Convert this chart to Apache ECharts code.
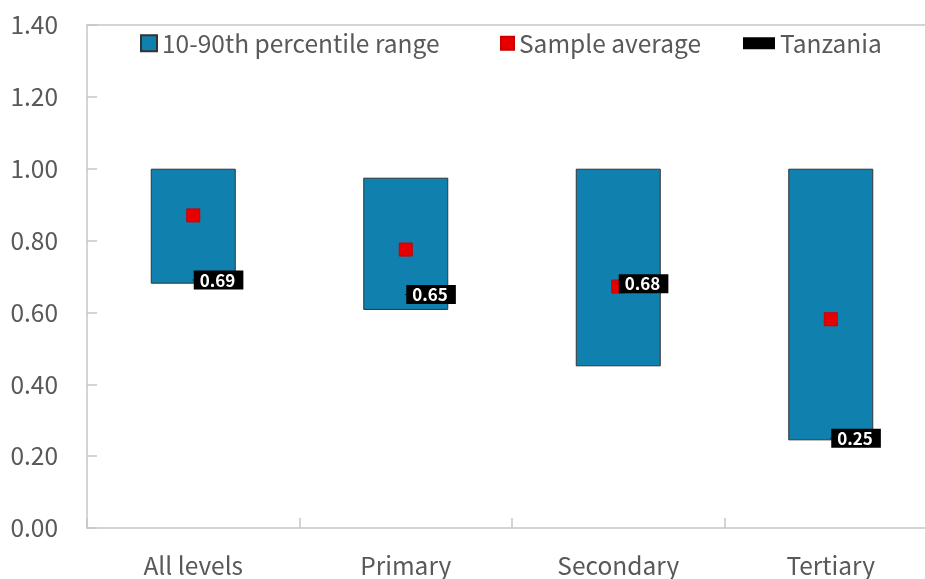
<!DOCTYPE html>
<html>
<head>
<meta charset="utf-8">
<script src="https://cdn.jsdelivr.net/npm/echarts@6/dist/echarts.min.js"></script>
<style>
  html, body { margin: 0; padding: 0; background: #fff; overflow: hidden; }
  /* the plot runs slightly past the right edge of the window */
  #chart { width: 937px; height: 579px; }
</style>
</head>
<body>
<div id="chart"></div>
<script>
// Education levels on the category axis
const categories = ['All levels', 'Primary', 'Secondary', 'Tertiary'];
// 10th and 90th percentile of the sample for each level
const p10 = [0.68, 0.607, 0.45, 0.244];
const p90 = [1.00, 0.975, 1.00, 1.00];
// Sample average
const average = [0.87, 0.775, 0.672, 0.581];
// Tanzania values (shown as labels)
const tanzania = [0.69, 0.65, 0.68, 0.25];
// Value axis ticks
const yTicks = [0, 0.2, 0.4, 0.6, 0.8, 1.0, 1.2, 1.4];

const FONT = 'Noto Sans CJK KR';
const TEXT = '#595959';
const AXIS = '#c6c6c6';

const rangeHeight = p90.map((v, i) => +(v - p10[i]).toFixed(4));

const chart = echarts.init(document.getElementById('chart'), null, { renderer: 'canvas' });

const legendText = { color: TEXT, fontSize: 24.5, fontFamily: FONT };

chart.setOption({
  animation: false,
  textStyle: { fontFamily: FONT },
  legend: [
    { data: [{ name: '10-90th percentile range', icon: 'rect' }], left: 140, top: 31,
      itemWidth: 16, itemHeight: 16, textStyle: legendText, padding: 0 },
    { data: [{ name: 'Sample average', icon: 'rect' }], left: 500, top: 31,
      itemWidth: 13, itemHeight: 13, textStyle: legendText, padding: 0 },
    { data: [{ name: 'Tanzania', icon: 'rect' }], left: 743, top: 31,
      itemWidth: 32, itemHeight: 12, textStyle: legendText, padding: 0 }
  ],
  grid: { left: 87, right: 0, top: 25, bottom: 51, containLabel: false },
  xAxis: [
    {
      type: 'category',
      data: categories,
      boundaryGap: true,
      axisLine: { show: true, lineStyle: { color: AXIS, width: 1.5 } },
      axisTick: { show: true, inside: true, length: 10, lineStyle: { color: AXIS, width: 1.5 } },
      axisLabel: { color: TEXT, fontSize: 24.5, fontFamily: FONT, margin: 25 },
      splitLine: { show: false }
    },
    {
      type: 'category',
      data: categories,
      position: 'top',
      axisLine: { show: true, lineStyle: { color: AXIS, width: 1.5 } },
      axisTick: { show: false },
      axisLabel: { show: false },
      splitLine: { show: false }
    }
  ],
  yAxis: {
    type: 'value',
    min: yTicks[0],
    max: yTicks[yTicks.length - 1],
    interval: 0.2,
    axisLine: { show: true, lineStyle: { color: AXIS, width: 1.5 } },
    axisTick: { show: true, inside: true, length: 10, lineStyle: { color: AXIS, width: 1.5 } },
    axisLabel: {
      color: TEXT, fontSize: 24.5, fontFamily: FONT, margin: 29,
      formatter: v => v.toFixed(2)
    },
    splitLine: { show: false }
  },
  series: [
    {
      name: 'base',
      type: 'bar',
      stack: 'range',
      barWidth: '40%',
      data: p10,
      itemStyle: { color: 'transparent' },
      emphasis: { disabled: true },
      silent: true
    },
    {
      name: '10-90th percentile range',
      type: 'bar',
      stack: 'range',
      barWidth: '40%',
      data: rangeHeight,
      itemStyle: { color: '#1080ae', borderColor: '#333', borderWidth: 1 }
    },
    {
      name: 'Sample average',
      type: 'scatter',
      symbol: 'rect',
      symbolSize: 13,
      data: average,
      z: 3,
      itemStyle: { color: '#e80000', borderColor: '#c80000', borderWidth: 1, opacity: 1 }
    },
    {
      name: 'Tanzania',
      type: 'scatter',
      symbol: 'rect',
      symbolSize: [1, 1],
      data: tanzania,
      z: 4,
      itemStyle: { color: '#000', opacity: 1 },
      label: {
        show: true,
        position: 'right',
        distance: 0,
        formatter: p => p.value.toFixed(2),
        backgroundColor: '#000',
        color: '#fff',
        fontWeight: 'bold',
        fontSize: 17,
        fontFamily: FONT,
        padding: [1, 8, 0, 6],
        lineHeight: 18
      }
    }
  ]
});
</script>
</body>
</html>
